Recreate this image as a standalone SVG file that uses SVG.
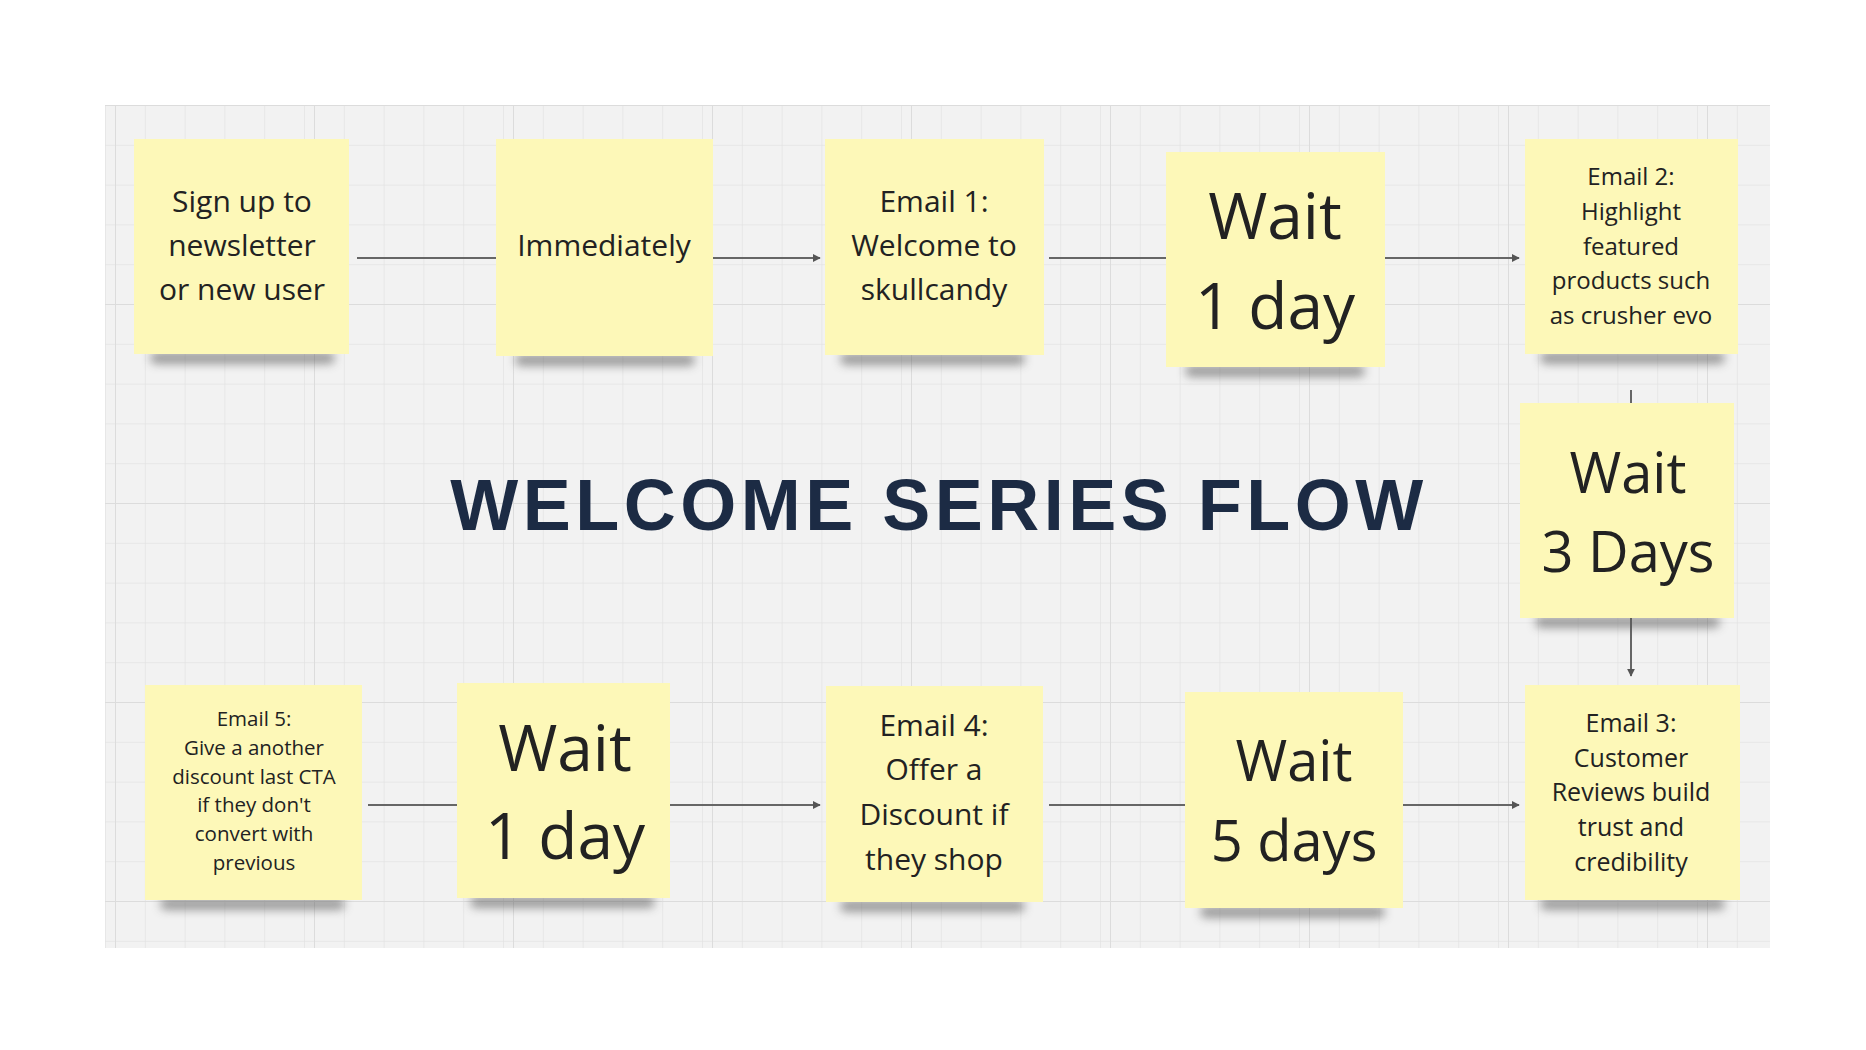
<svg xmlns="http://www.w3.org/2000/svg" width="1866" height="1050" viewBox="0 0 1866 1050">
<style>
.n{fill:#fdf8b8}
.t{font-family:"Open Sans",sans-serif;fill:#222;text-anchor:middle}
.c{stroke:#666;stroke-width:2;fill:none}
.sh{fill:#555;filter:url(#blur);opacity:.55}
</style>
<defs>
<pattern id="g" x="105" y="105" width="39.8" height="39.8" patternUnits="userSpaceOnUse"><path d="M0 0V39.8M0 0H39.8" stroke="#e3e3e3" stroke-width="1.5"/></pattern>
<pattern id="G" x="115" y="105" width="199" height="199" patternUnits="userSpaceOnUse"><path d="M0 0V199M0 0H199" stroke="#dcdcdc" stroke-width="2"/></pattern>
<filter id="blur" x="-20%" y="-100%" width="140%" height="300%"><feGaussianBlur stdDeviation="5"/></filter>
<marker id="a" viewBox="0 0 10 10" refX="9" refY="5" markerWidth="8" markerHeight="8" orient="auto" markerUnits="userSpaceOnUse"><path d="M0 0L10 5L0 10z" fill="#555"/></marker>
</defs>
<rect width="1866" height="1050" fill="#fff"/>
<rect x="105" y="105" width="1665" height="843" fill="#f2f2f2"/>
<rect x="105" y="105" width="1665" height="843" fill="url(#g)"/>
<rect x="105" y="105" width="1665" height="843" fill="url(#G)"/>
<g id="connectors">
<path class="c" d="M357 258H496"/>
<path class="c" d="M713 258H820" marker-end="url(#a)"/>
<path class="c" d="M1049 258H1166"/>
<path class="c" d="M1385 258H1519" marker-end="url(#a)"/>
<path class="c" d="M1631 390V403"/>
<path class="c" d="M1631 618V676" marker-end="url(#a)"/>
<path class="c" d="M368 805H457"/>
<path class="c" d="M670 805H820" marker-end="url(#a)"/>
<path class="c" d="M1049 805H1185"/>
<path class="c" d="M1403 805H1519" marker-end="url(#a)"/>
</g>
<text x="939" y="530" font-family="Liberation Sans,Arial,sans-serif" font-weight="bold" font-size="72" letter-spacing="4.5" fill="#1c2b44" text-anchor="middle">WELCOME SERIES FLOW</text>
<g id="n1"><rect class="sh" x="150" y="352" width="185" height="12" rx="6"/><rect class="n" x="134" y="139" width="215" height="215"/><text class="t" font-size="30"><tspan x="242" y="212">Sign up to</tspan><tspan x="242" y="256">newsletter</tspan><tspan x="242" y="300">or new user</tspan></text></g>
<g id="n2"><rect class="sh" x="515" y="354" width="180" height="12" rx="6"/><rect class="n" x="496" y="139" width="217" height="217"/><text class="t" font-size="30" x="604" y="256">Immediately</text></g>
<g id="n3"><rect class="sh" x="840" y="353" width="185" height="12" rx="6"/><rect class="n" x="825" y="139" width="219" height="216"/><text class="t" font-size="30"><tspan x="934" y="212">Email 1:</tspan><tspan x="934" y="256">Welcome to</tspan><tspan x="934" y="300">skullcandy</tspan></text></g>
<g id="n4"><rect class="sh" x="1185" y="365" width="180" height="12" rx="6"/><rect class="n" x="1166" y="152" width="219" height="215"/><text class="t" font-size="64"><tspan x="1275" y="239">Wait</tspan><tspan x="1275" y="329">1 day</tspan></text></g>
<g id="n5"><rect class="sh" x="1540" y="352" width="185" height="12" rx="6"/><rect class="n" x="1525" y="139" width="213" height="215"/><text class="t" font-size="24"><tspan x="1631" y="185">Email 2:</tspan><tspan x="1631" y="220">Highlight</tspan><tspan x="1631" y="255">featured</tspan><tspan x="1631" y="289">products such</tspan><tspan x="1631" y="324">as crusher evo</tspan></text></g>
<g id="n6"><rect class="sh" x="1535" y="616" width="185" height="12" rx="6"/><rect class="n" x="1520" y="403" width="214" height="215"/><text class="t" font-size="56"><tspan x="1628" y="493">Wait</tspan><tspan x="1628" y="572">3 Days</tspan></text></g>
<g id="n7"><rect class="sh" x="1540" y="898" width="185" height="12" rx="6"/><rect class="n" x="1525" y="685" width="215" height="215"/><text class="t" font-size="25"><tspan x="1631" y="732">Email 3:</tspan><tspan x="1631" y="767">Customer</tspan><tspan x="1631" y="801">Reviews build</tspan><tspan x="1631" y="836">trust and</tspan><tspan x="1631" y="871">credibility</tspan></text></g>
<g id="n8"><rect class="sh" x="1200" y="906" width="185" height="12" rx="6"/><rect class="n" x="1185" y="692" width="218" height="216"/><text class="t" font-size="56"><tspan x="1294" y="781">Wait</tspan><tspan x="1294" y="861">5 days</tspan></text></g>
<g id="n9"><rect class="sh" x="840" y="900" width="185" height="12" rx="6"/><rect class="n" x="826" y="686" width="217" height="216"/><text class="t" font-size="30"><tspan x="934" y="736">Email 4:</tspan><tspan x="934" y="780">Offer a</tspan><tspan x="934" y="825">Discount if</tspan><tspan x="934" y="870">they shop</tspan></text></g>
<g id="n10"><rect class="sh" x="470" y="896" width="185" height="12" rx="6"/><rect class="n" x="457" y="683" width="213" height="215"/><text class="t" font-size="64"><tspan x="565" y="771">Wait</tspan><tspan x="565" y="859">1 day</tspan></text></g>
<g id="n11"><rect class="sh" x="160" y="898" width="185" height="12" rx="6"/><rect class="n" x="145" y="685" width="217" height="215"/><text class="t" font-size="20.5"><tspan x="254" y="726">Email 5:</tspan><tspan x="254" y="755">Give a another</tspan><tspan x="254" y="784">discount last CTA</tspan><tspan x="254" y="812">if they don't</tspan><tspan x="254" y="841">convert with</tspan><tspan x="254" y="870">previous</tspan></text></g>
</svg>
